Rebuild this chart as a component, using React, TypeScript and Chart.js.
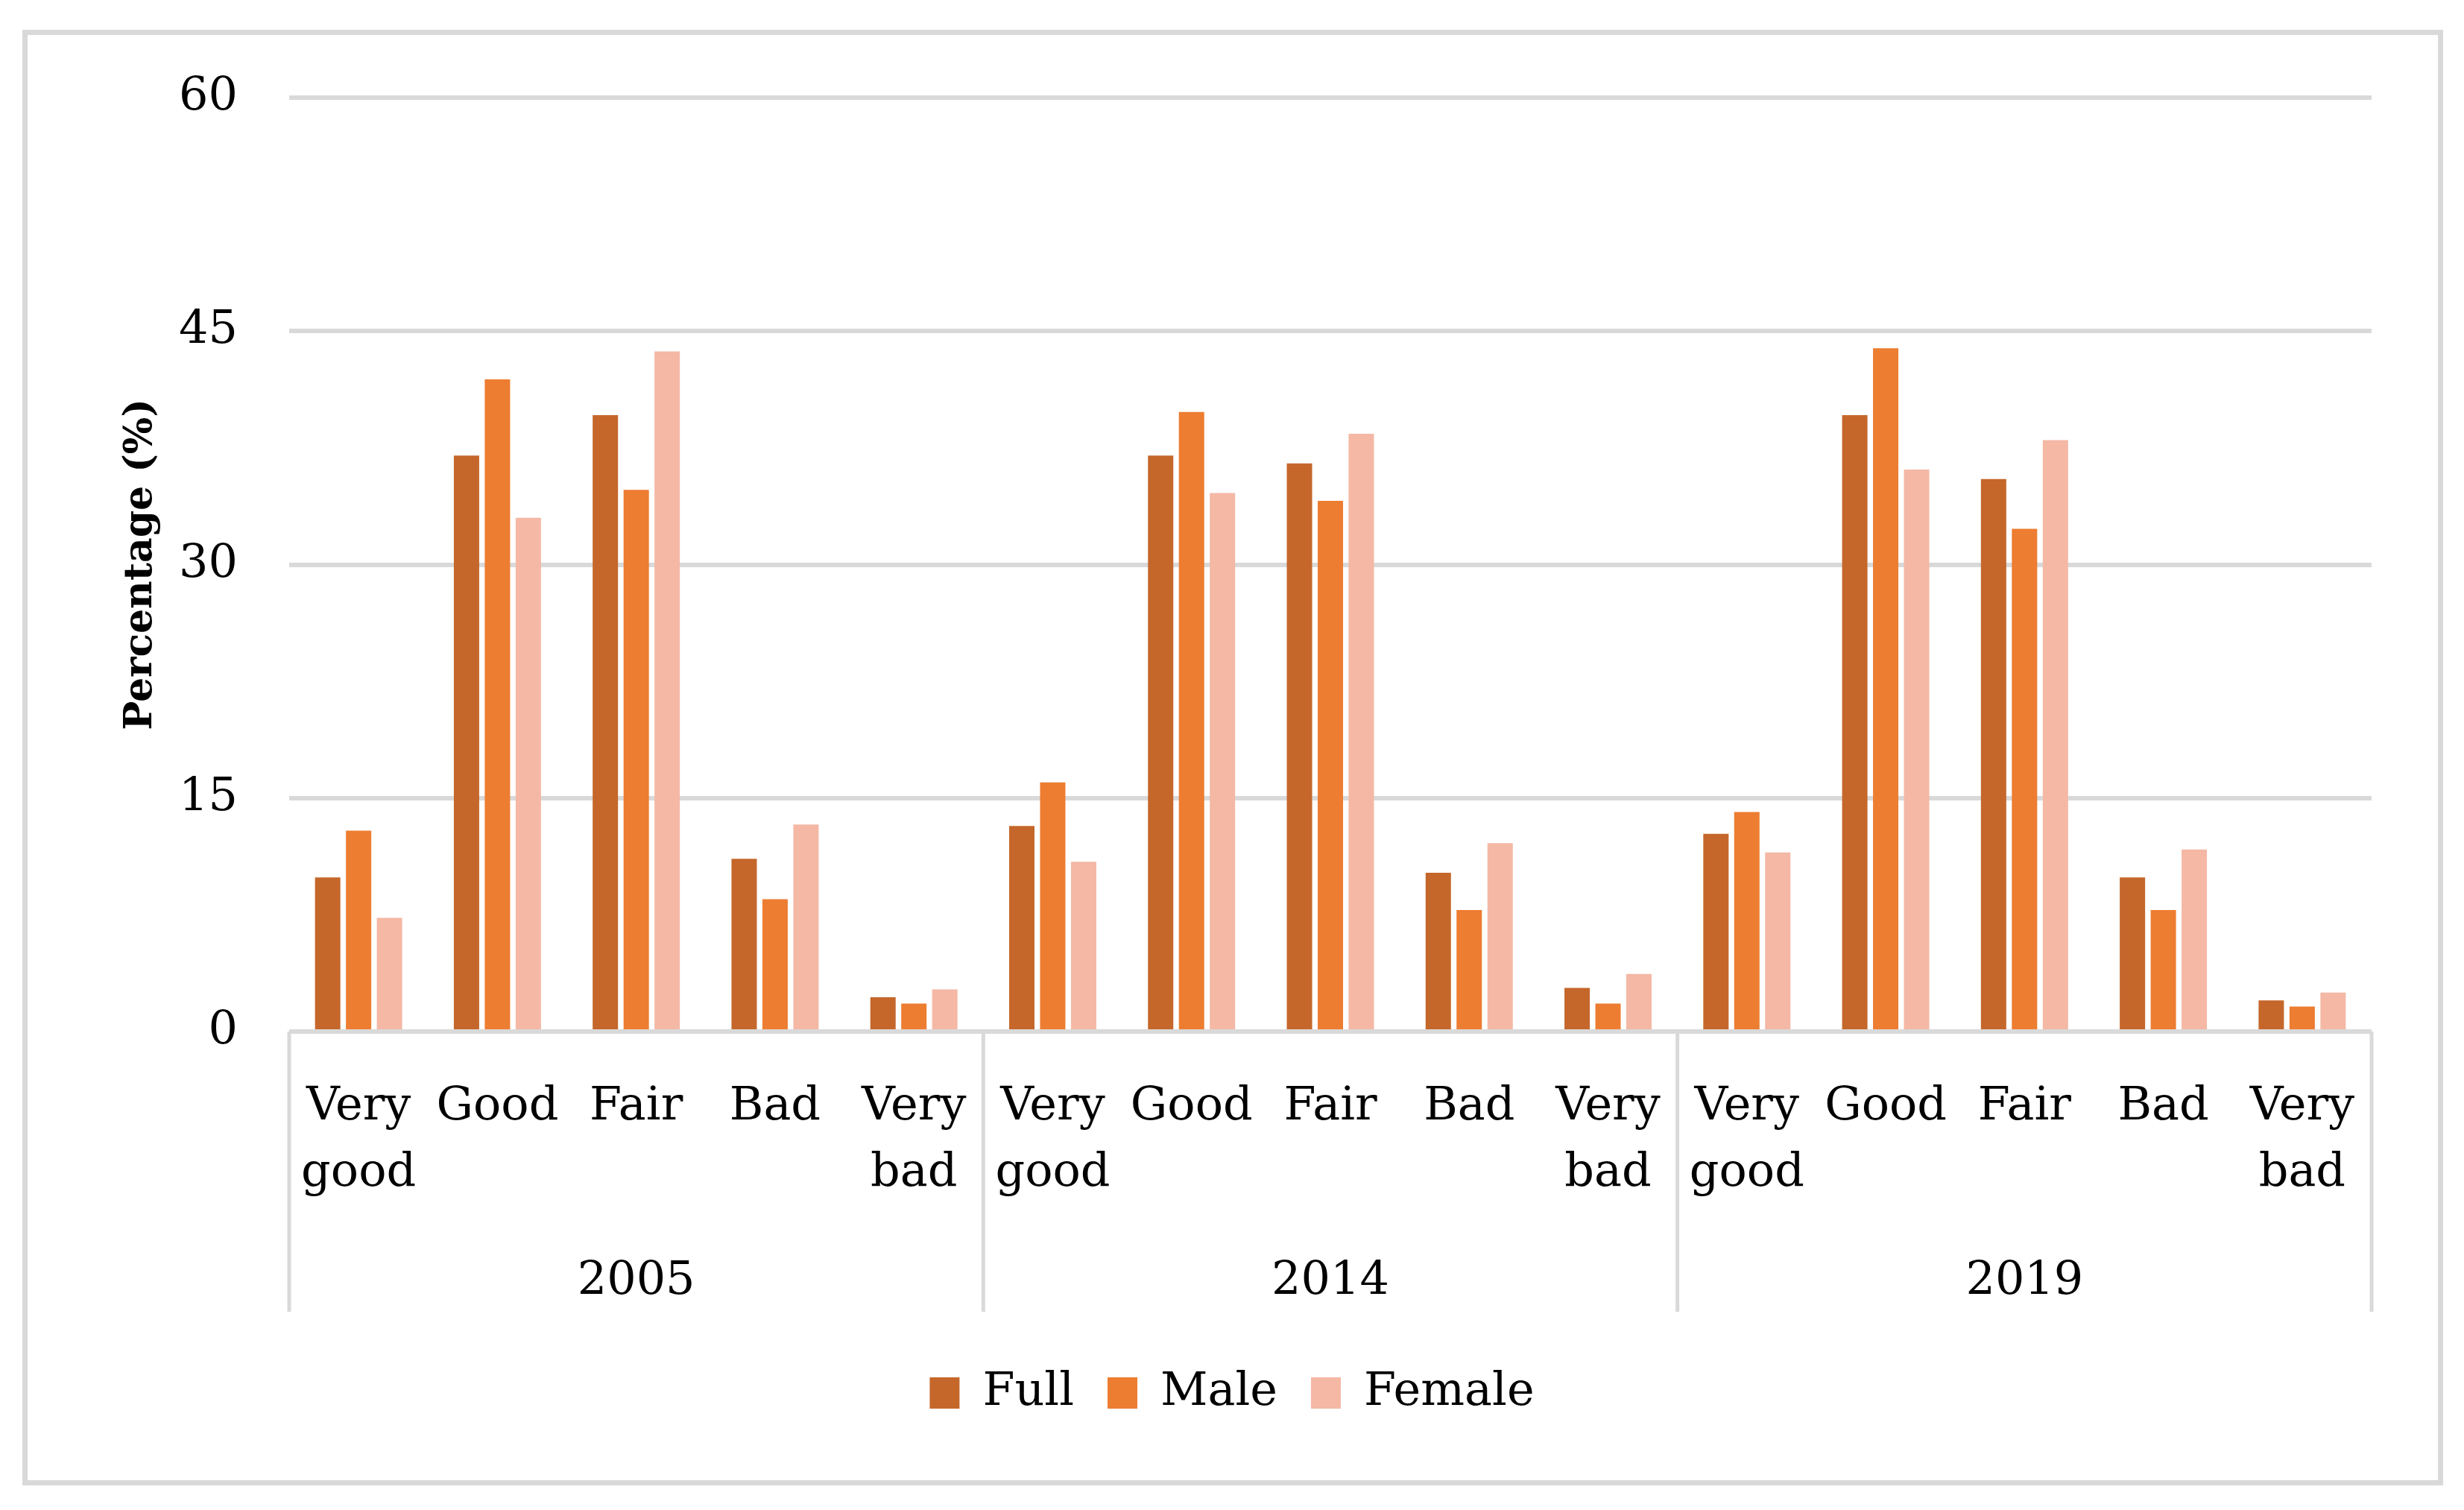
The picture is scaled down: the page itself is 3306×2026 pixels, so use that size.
import { useRef, useEffect } from 'react';
import { Chart, registerables } from 'chart.js';
import React from 'react';

Chart.register(...registerables);

// Years in the lower axis row, and the five ratings repeated in each year
const years = ['2005', '2014', '2019'];
const ratings: (string | string[])[] = [['Very', 'good'], 'Good', 'Fair', 'Bad', ['Very', 'bad']];
const yTicks = [0, 15, 30, 45, 60];

// Percentages per rating, years in order 2005, 2014, 2019
const full = [9.9, 37.0, 39.6, 11.1, 2.2, 13.2, 37.0, 36.5, 10.2, 2.8, 12.7, 39.6, 35.5, 9.9, 2.0];
const male = [12.9, 41.9, 34.8, 8.5, 1.8, 16.0, 39.8, 34.1, 7.8, 1.8, 14.1, 43.9, 32.3, 7.8, 1.6];
const female = [7.3, 33.0, 43.7, 13.3, 2.7, 10.9, 34.6, 38.4, 12.1, 3.7, 11.5, 36.1, 38.0, 11.7, 2.5];

const FONT = "'DejaVu Serif', serif";
const GRID = '#d9d9d9';

// vertical separators between the years, through the label rows
const yearDividers = {
  id: 'yearDividers',
  afterDraw(chart: any) {
    const { ctx, chartArea } = chart;
    const x2 = chart.scales.x2;
    const step = x2.width / years.length;
    ctx.save();
    ctx.strokeStyle = GRID;
    ctx.lineWidth = 5;
    for (let g = 0; g <= years.length; g++) {
      const x = x2.left + g * step;
      ctx.beginPath();
      ctx.moveTo(x, chartArea.bottom);
      ctx.lineTo(x, x2.bottom);
      ctx.stroke();
    }
    ctx.restore();
  },
};

function HealthChart() {
  const canvasRef = useRef<HTMLCanvasElement>(null);

  useEffect(() => {
    const canvas = canvasRef.current;
    if (!canvas) return;
    const labels = years.flatMap(() => ratings);
    const chart = new Chart(canvas, {
      type: 'bar',
      data: {
        labels,
        datasets: [
          { label: 'Full', data: full, backgroundColor: '#C5672B' },
          { label: 'Male', data: male, backgroundColor: '#ED7D31' },
          { label: 'Female', data: female, backgroundColor: '#F4B8A5' },
        ],
      },
      options: {
        responsive: false,
        devicePixelRatio: 1,
        animation: false,
        layout: { padding: { left: 124, right: 124, top: 131, bottom: 116 } },
        datasets: { bar: { categoryPercentage: 0.668, barPercentage: 0.82 } },
        plugins: {
          tooltip: { enabled: false },
          legend: {
            position: 'bottom',
            title: { display: true, text: '', font: { size: 10 }, padding: { top: 0, bottom: 21 } },
            labels: {
              boxWidth: 40,
              boxHeight: 42,
              padding: 45,
              color: '#000',
              font: { family: FONT, size: 62 },
            },
          },
        },
        scales: {
          x: {
            weight: 0,
            grid: { display: false },
            border: { display: false },
            ticks: {
              color: '#000',
              font: { family: FONT, size: 62, lineHeight: 1.44 },
              padding: 49,
              maxRotation: 0,
              minRotation: 0,
              autoSkip: false,
            },
            afterFit: (s: any) => { s.height = 228; },
          },
          x2: {
            type: 'category',
            labels: years,
            position: 'bottom',
            weight: 1,
            grid: { display: false },
            border: { display: false },
            ticks: {
              color: '#000',
              font: { family: FONT, size: 62, lineHeight: 1.44 },
              padding: 55,
              maxRotation: 0,
            },
            afterFit: (s: any) => { s.height = 148; },
          },
          y: {
            min: 0,
            max: 60,
            afterBuildTicks: (s: any) => { s.ticks = yTicks.map((v) => ({ value: v })); },
            grid: { color: GRID, lineWidth: 6, drawTicks: false },
            border: { display: false },
            ticks: {
              color: '#000',
              font: { family: FONT, size: 62 },
              padding: 69,
            },
            title: {
              display: true,
              text: 'Percentage (%)',
              color: '#000',
              font: { family: FONT, size: 52, weight: 'bold' },
              padding: { top: 34, bottom: 0 },
            },
            afterFit: (s: any) => { s.width = 264; },
          },
        },
      },
      plugins: [yearDividers],
    });
    return () => {
      chart.destroy();
    };
  }, []);

  return <canvas ref={canvasRef} width={3306} height={2026} style={{ position: 'absolute', left: 0, top: 0 }} />;
}

export default function App() {
  return (
    <div style={{ position: 'fixed', left: 0, top: 0, width: 3306, height: 2026, background: '#fff' }}>
      <div
        style={{
          position: 'absolute',
          left: 30,
          top: 40,
          width: 3248,
          height: 1953,
          boxSizing: 'border-box',
          border: `7px solid ${GRID}`,
        }}
      />
      <HealthChart />
    </div>
  );
}
